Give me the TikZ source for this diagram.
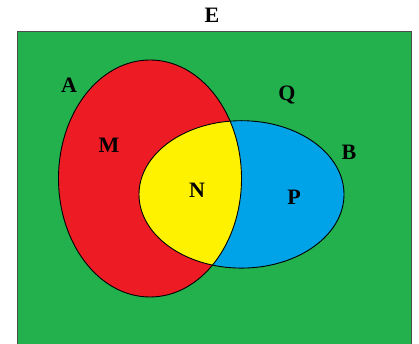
\documentclass[tikz,border=0pt]{standalone}
\usepackage{fontspec}
\setmainfont{Liberation Serif}
\definecolor{paintgreen}{RGB}{34,177,76}
\definecolor{paintred}{RGB}{237,28,36}
\definecolor{paintyellow}{RGB}{255,242,0}
\definecolor{paintblue}{RGB}{0,162,232}
\begin{document}
\begin{tikzpicture}[x=1pt,y=1pt,
    setlabel/.style={font=\fontsize{22}{24}\selectfont\bfseries, inner sep=0pt},
    outline/.style={draw=black, line width=0.9pt}]

    % --- Page size ---
    \useasboundingbox (0,0) rectangle (419,344);

    % --- Define Coordinates ---
    % Centres of the two sets
    \coordinate (A0) at (150,165.5);
    \coordinate (B0) at (241.5,149.6);

    % --- Universal set ---
    \draw[fill=paintgreen, draw=black!70, line width=0.8pt] (17,313) rectangle (411.5,-10);

    % --- Sets A and B ---
    \fill[paintred] (A0) ellipse [x radius=91.5, y radius=118.5];
    \fill[paintblue] (B0) ellipse [x radius=102.5, y radius=73.7];

    % Intersection of A and B
    \begin{scope}
        \clip (A0) ellipse [x radius=91.5, y radius=118.5];
        \fill[paintyellow] (B0) ellipse [x radius=102.5, y radius=73.7];
    \end{scope}

    % Outlines
    \draw[outline] (A0) ellipse [x radius=91.5, y radius=118.5];
    \draw[outline] (B0) ellipse [x radius=102.5, y radius=73.7];

    % --- Labels ---
    \node[setlabel] (E) at (212,329) {E};
    \node[setlabel] (A) at (69,259) {A};
    \node[setlabel] (Q) at (287,249) {Q};
    \node[setlabel] (B) at (349,192) {B};
    \node[setlabel] (M) at (109,199) {M};
    \node[setlabel] (N) at (197,154) {N};
    \node[setlabel] (P) at (294,147) {P};

\end{tikzpicture}
\end{document}
